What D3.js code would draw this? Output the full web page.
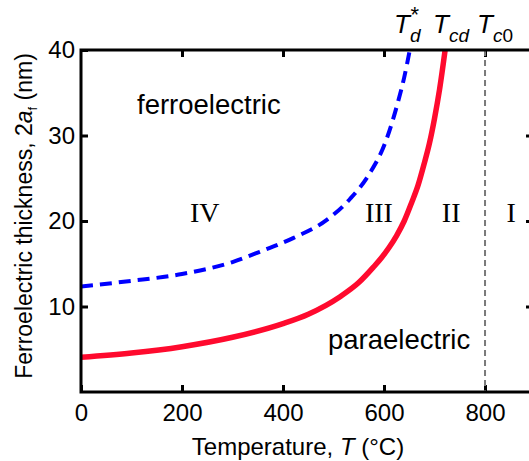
<!DOCTYPE html>
<html>
<head>
<meta charset="utf-8">
<script src="https://cdn.jsdelivr.net/npm/d3@7"></script>
<style>
	body { margin: 0; background: #fff; }
	svg { display: block; font-family: "Liberation Sans", Arial, sans-serif; }
	.axis text { font-size: 24px; fill: #000; }
	.axis line { stroke: #000; stroke-width: 3; }
	.axis path { display: none; }
</style>
</head>
<body>
<svg width="529" height="461"></svg>
<script>
// temperature (°C) vs ferroelectric thickness (nm)
var tcdTemp  = [0, 100, 200, 300, 400, 450, 513, 550, 579, 595, 610, 625, 640, 655, 667, 680, 690, 700, 710, 721];
var tcdThick = [4.05, 4.55, 5.3, 6.4, 8.0, 9.1, 11.15, 12.8, 14.6, 15.7, 16.9, 18.3, 20.0, 22.2, 24.1, 26.8, 29.1, 32, 35.4, 40];

var tdTemp  = [0, 100, 200, 300, 354, 420, 486, 533, 572, 602, 628, 640, 651];
var tdThick = [12.35, 13.0, 13.8, 15.2, 16.4, 18.0, 20.1, 22.6, 25.6, 29.1, 34.0, 36.8, 40];

var tc0Temp = 800;

var xTicks = [0, 200, 400, 600, 800];
var yTicks = [10, 20, 30, 40];

var regions = ["IV", "III", "II", "I"];
var regionTemp = [245, 590, 733, 852];

(function(){

	var svg = d3.select("svg");

	var x = d3.scaleLinear().domain([0, 895]).range([81, 533]);
	var y = d3.scaleLinear().domain([0, 40]).range([392, 50]);

	svg.append("defs").append("clipPath").attr("id", "plot")
		.append("rect")
			.attr("x", x(0)).attr("y", y(40))
			.attr("width", x(895) - x(0)).attr("height", y(0) - y(40));

	// axes, ticks pointing inward
	svg.append("g")
		.attr("class", "axis")
		.attr("transform", "translate(0," + y(0) + ")")
		.call(d3.axisBottom(x).tickValues(xTicks).tickSize(-7).tickPadding(12).tickFormat(d3.format("d")));

	svg.append("g")
		.attr("class", "axis")
		.attr("transform", "translate(" + x(0) + ",0)")
		.call(d3.axisLeft(y).tickValues(yTicks).tickSize(-7).tickPadding(6));

	svg.append("g")
		.attr("class", "axis")
		.attr("transform", "translate(0," + y(40) + ")")
		.call(d3.axisTop(x).tickValues([200, 400, 600, 800]).tickSize(-7).tickFormat(""));

	svg.append("g")
		.attr("class", "axis")
		.attr("transform", "translate(" + x(895) + ",0)")
		.call(d3.axisRight(y).tickValues([10, 20, 30]).tickSize(-7).tickFormat(""));

	var plot = svg.append("g").attr("clip-path", "url(#plot)");

	// Tc0 vertical line
	plot.append("line")
		.attr("x1", x(tc0Temp)).attr("x2", x(tc0Temp))
		.attr("y1", y(40)).attr("y2", y(0))
		.attr("stroke", "#7a7a7a")
		.attr("stroke-width", 2)
		.attr("stroke-dasharray", "6,4");

	var line = d3.line()
		.x(function(d){ return x(d[0]); })
		.y(function(d){ return y(d[1]); })
		.curve(d3.curveMonotoneX);

	plot.append("path")
		.datum(d3.zip(tdTemp, tdThick))
		.attr("d", line)
		.attr("fill", "none")
		.attr("stroke", "#0000ff")
		.attr("stroke-width", 4)
		.attr("stroke-dasharray", "12,7");

	plot.append("path")
		.datum(d3.zip(tcdTemp, tcdThick))
		.attr("d", line)
		.attr("fill", "none")
		.attr("stroke", "#ff0a2e")
		.attr("stroke-width", 5.5);

	// frame
	svg.append("rect")
		.attr("x", x(0)).attr("y", y(40))
		.attr("width", x(895) - x(0)).attr("height", y(0) - y(40))
		.attr("fill", "none")
		.attr("stroke", "#000")
		.attr("stroke-width", 3);

	// region labels
	svg.selectAll(".region")
		.data(regions)
		.enter().append("text")
			.attr("class", "region")
			.attr("x", function(d, i){ return x(regionTemp[i]); })
			.attr("y", 222)
			.attr("text-anchor", "middle")
			.style("font-family", "'Liberation Serif', 'Times New Roman', serif")
			.style("font-size", "28px")
			.text(function(d){ return d; });

	svg.append("text")
		.attr("x", 137).attr("y", 114)
		.style("font-size", "27.5px")
		.text("ferroelectric");

	svg.append("text")
		.attr("x", 328).attr("y", 349)
		.style("font-size", "27.5px")
		.text("paraelectric");

	// top labels
	var top1 = svg.append("text").attr("x", 394).attr("y", 33).style("font-size", "26px");
	top1.append("tspan").style("font-style", "italic").text("T");
	top1.append("tspan").attr("dy", 9).style("font-size", "19px").style("font-style", "italic").text("d");
	top1.append("tspan").attr("dx", -10).attr("dy", -20).style("font-size", "22px").text("*");

	var top2 = svg.append("text").attr("x", 433).attr("y", 33).style("font-size", "26px");
	top2.append("tspan").style("font-style", "italic").text("T");
	top2.append("tspan").attr("dy", 9).style("font-size", "19px").style("font-style", "italic").text("cd");

	var top3 = svg.append("text").attr("x", 477).attr("y", 33).style("font-size", "26px");
	top3.append("tspan").style("font-style", "italic").text("T");
	top3.append("tspan").attr("dy", 9).style("font-size", "19px").style("font-style", "italic").text("c");
	top3.append("tspan").style("font-size", "19px").text("0");

	// axis titles
	var xt = svg.append("text")
		.attr("x", 298).attr("y", 455)
		.attr("text-anchor", "middle")
		.style("font-size", "24px");
	xt.append("tspan").text("Temperature, ");
	xt.append("tspan").style("font-style", "italic").text("T");
	xt.append("tspan").text(" (\u00b0C)");

	var yt = svg.append("text")
		.attr("transform", "translate(32,216) rotate(-90)")
		.attr("text-anchor", "middle")
		.style("font-size", "23px");
	yt.append("tspan").text("Ferroelectric thickness, 2");
	yt.append("tspan").style("font-style", "italic").text("a");
	yt.append("tspan").attr("dy", 5).style("font-size", "13px").text("f");
	yt.append("tspan").attr("dy", -5).text(" (nm)");

})();
</script>
</body>
</html>
